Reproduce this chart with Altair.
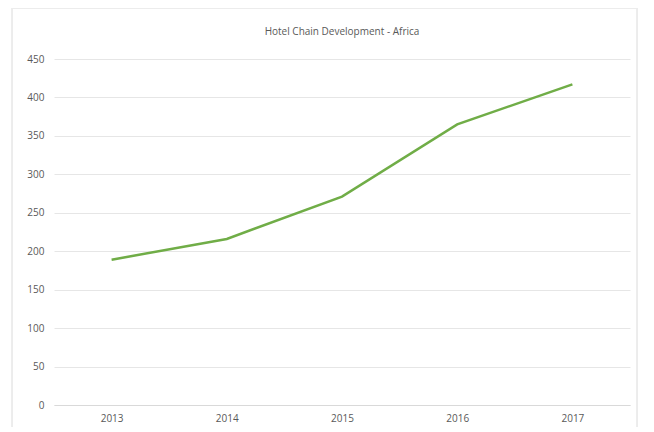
import altair as alt
import pandas as pd

years = ["2013", "2014", "2015", "2016", "2017"]
hotels = [189, 216, 271, 365, 417]

df = pd.DataFrame({"Year": years, "Hotels": hotels})

FONT = "Open Sans"
GRAY = "#595959"

line = alt.Chart(df).mark_line(color="#70AD47", strokeWidth=2.5).encode(
    x=alt.X("Year:N", sort=years,
            scale=alt.Scale(paddingInner=0, paddingOuter=0.5),
            axis=alt.Axis(title=None, labelAngle=0, ticks=False, domain=True,
                          domainColor="#d9d9d9", grid=False,
                          labelColor=GRAY, labelFontSize=10, labelFont=FONT,
                          labelPadding=8)),
    y=alt.Y("Hotels:Q",
            scale=alt.Scale(domain=[0, 450], nice=False),
            axis=alt.Axis(title=None, values=list(range(0, 451, 50)),
                          ticks=False, domain=False, gridColor="#e6e6e6",
                          labelColor=GRAY, labelFontSize=10, labelFont=FONT,
                          labelPadding=10)),
)

border = alt.Chart(df).mark_rect(fill=None, stroke="#ececec", strokeWidth=1,
                                  clip=False).encode(
    x=alt.value(-42), x2=alt.value(583),
    y=alt.value(-51), y2=alt.value(400),
)

chart = alt.layer(border, line).properties(
    width=576, height=346,
    padding={"left": 46, "top": 51, "right": 8, "bottom": 22},
    autosize=alt.AutoSizeParams(type="none"),
    background="white",
    title=alt.TitleParams("Hotel Chain Development - Africa", fontSize=10,
                          font=FONT, fontWeight="normal", color=GRAY,
                          anchor="middle", offset=20, dy=49),
).configure_view(stroke=None)

chart.save("out.html", embed_options={"renderer": "svg", "actions": False})
